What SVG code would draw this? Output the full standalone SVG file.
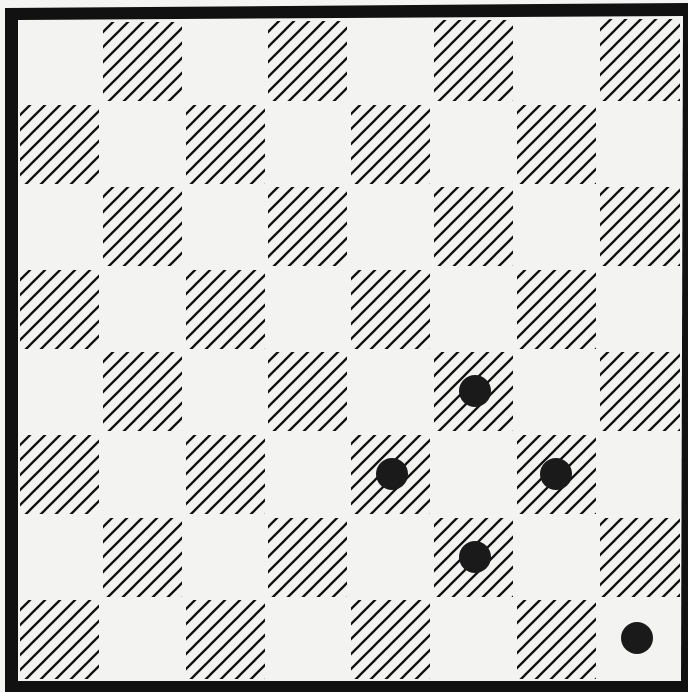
<svg xmlns="http://www.w3.org/2000/svg" width="688" height="692" viewBox="0 0 688 692">
<defs>
<pattern id="hatch" patternUnits="userSpaceOnUse" width="15" height="15">
<path d="M-2,2 L2,-2 M0,15 L15,0 M13,17 L17,13" stroke="#111" stroke-width="2.3" stroke-linecap="round"/>
</pattern>
</defs>
<style>
.dk{fill:url(#hatch)}
.pc{fill:#1a1a1a}
</style>
<rect x="0" y="0" width="688" height="692" fill="#f4f4f2"/>
<polygon id="frame" points="5,8 688,3 688,692 5,692" fill="#111"/>
<polygon points="18,20 683,16 681,681 18,681" fill="#f3f3f1"/>
<g id="squares">
<rect class="dk" x="103" y="22" width="79" height="79"/>
<rect class="dk" x="268" y="21" width="79" height="80"/>
<rect class="dk" x="434" y="20" width="79" height="81"/>
<rect class="dk" x="600" y="19" width="80" height="82"/>
<rect class="dk" x="20" y="105" width="79" height="79"/>
<rect class="dk" x="186" y="105" width="79" height="79"/>
<rect class="dk" x="351" y="105" width="79" height="79"/>
<rect class="dk" x="517" y="105" width="79" height="79"/>
<rect class="dk" x="103" y="187" width="79" height="79"/>
<rect class="dk" x="268" y="187" width="79" height="79"/>
<rect class="dk" x="434" y="187" width="79" height="79"/>
<rect class="dk" x="600" y="187" width="80" height="79"/>
<rect class="dk" x="20" y="270" width="79" height="79"/>
<rect class="dk" x="186" y="270" width="79" height="79"/>
<rect class="dk" x="351" y="270" width="79" height="79"/>
<rect class="dk" x="517" y="270" width="79" height="79"/>
<rect class="dk" x="103" y="352" width="79" height="79"/>
<rect class="dk" x="268" y="352" width="79" height="79"/>
<rect class="dk" x="434" y="352" width="79" height="79"/>
<rect class="dk" x="600" y="352" width="80" height="79"/>
<rect class="dk" x="20" y="435" width="79" height="79"/>
<rect class="dk" x="186" y="435" width="79" height="79"/>
<rect class="dk" x="351" y="435" width="79" height="79"/>
<rect class="dk" x="517" y="435" width="79" height="79"/>
<rect class="dk" x="103" y="518" width="79" height="79"/>
<rect class="dk" x="268" y="518" width="79" height="79"/>
<rect class="dk" x="434" y="518" width="79" height="79"/>
<rect class="dk" x="600" y="518" width="80" height="79"/>
<rect class="dk" x="20" y="600" width="79" height="79"/>
<rect class="dk" x="186" y="600" width="79" height="79"/>
<rect class="dk" x="351" y="600" width="79" height="79"/>
<rect class="dk" x="517" y="600" width="79" height="79"/>
</g>
<g id="pieces">
<circle class="pc" cx="475" cy="391" r="16"/>
<circle class="pc" cx="392" cy="474" r="16"/>
<circle class="pc" cx="556" cy="474" r="16"/>
<circle class="pc" cx="475" cy="557" r="16"/>
<circle class="pc" cx="637" cy="638" r="16"/>
</g>
</svg>
